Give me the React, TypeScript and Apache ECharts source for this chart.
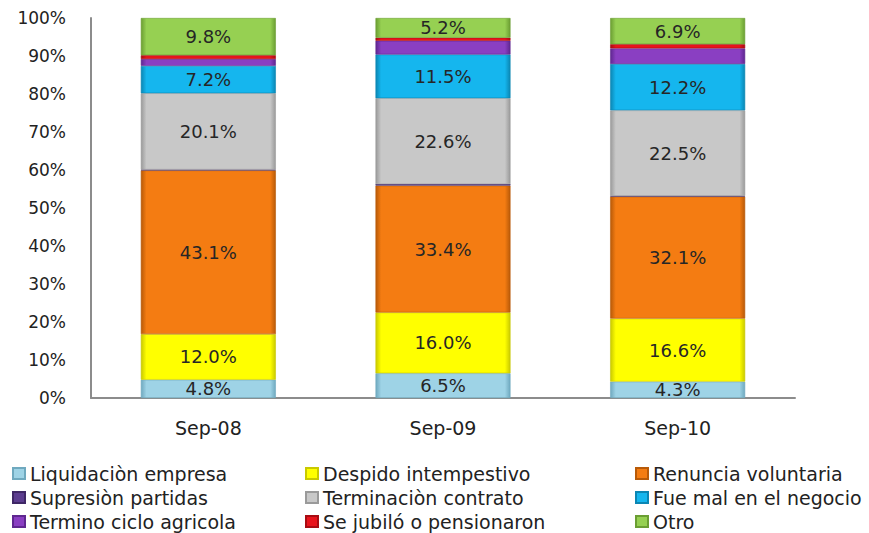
import React, { useEffect, useRef } from "react";
import * as echarts from "echarts";

const categories = ["Sep-08", "Sep-09", "Sep-10"];
const yTicks = [0, 10, 20, 30, 40, 50, 60, 70, 80, 90, 100];

const liquidacion = [4.8, 6.5, 4.3];
const despido = [12.0, 16.0, 16.6];
const renuncia = [43.1, 33.4, 32.1];
const supresion = [0.2, 0.4, 0.2];
const terminacion = [20.1, 22.6, 22.5];
const fueMal = [7.2, 11.5, 12.2];
const terminoCiclo = [1.8, 3.6, 4.1];
const jubilo = [1.0, 0.8, 1.1];
const otro = [9.8, 5.2, 6.9];

const seriesDefs = [
  { name: "Liquidaciòn empresa", data: liquidacion, color: "#9ed3e6", edge: "#6fa9bf", label: true },
  { name: "Despido intempestivo", data: despido, color: "#ffff00", edge: "#c9c900", label: true },
  { name: "Renuncia voluntaria", data: renuncia, color: "#f47c12", edge: "#b85a08", label: true },
  { name: "Supresiòn partidas", data: supresion, color: "#5c3d8f", edge: "#3f2766", label: false },
  { name: "Terminaciòn contrato", data: terminacion, color: "#c8c8c8", edge: "#9a9a9a", label: true },
  { name: "Fue mal en el negocio", data: fueMal, color: "#15b6ee", edge: "#0b86b3", label: true },
  { name: "Termino ciclo agricola", data: terminoCiclo, color: "#8a3fc2", edge: "#5f2790", label: false },
  { name: "Se jubiló o pensionaron", data: jubilo, color: "#e8141c", edge: "#a80c12", label: false },
  { name: "Otro", data: otro, color: "#96d052", edge: "#6b9e33", label: true },
];

const legendCols = [
  ["Liquidaciòn empresa", "Supresiòn partidas", "Termino ciclo agricola"],
  ["Despido intempestivo", "Terminaciòn contrato", "Se jubiló o pensionaron"],
  ["Renuncia voluntaria", "Fue mal en el negocio", "Otro"],
];
const legendLefts = [12, 305, 635];

const FONT = "'DejaVu Sans', Verdana, sans-serif";

export default function App() {
  const ref = useRef<HTMLDivElement>(null);
  useEffect(() => {
    if (!ref.current) return;
    const chart = echarts.init(ref.current, null, { renderer: "svg" });
    chart.setOption({
      animation: false,
      backgroundColor: "#ffffff",
      textStyle: { fontFamily: FONT },
      grid: { left: 91, right: 74, top: 18, bottom: 135 },
      legend: legendCols.map((col, i) => ({
        data: col,
        orient: "vertical",
        left: legendLefts[i],
        top: 464,
        height: 72,
        itemGap: 5,
        itemWidth: 12,
        itemHeight: 11,
        icon: "rect",
        padding: 0,
        textStyle: { fontFamily: FONT, fontSize: 19, lineHeight: 19, color: "#222", padding: [0, 0, 0, 0] },
      })),
      xAxis: {
        type: "category",
        data: categories,
        axisLine: { show: true, lineStyle: { color: "#8c8c8c", width: 2 } },
        axisTick: { show: false },
        axisLabel: { fontFamily: FONT, fontSize: 19, color: "#222", margin: 20 },
      },
      yAxis: {
        type: "value",
        min: yTicks[0],
        max: yTicks[yTicks.length - 1],
        interval: 10,
        axisLine: { show: true, lineStyle: { color: "#8c8c8c", width: 2 } },
        axisTick: { show: false },
        splitLine: { show: false },
        axisLabel: { fontFamily: FONT, fontSize: 17, color: "#222", margin: 25, formatter: "{value}%" },
      },
      series: seriesDefs.map((s) => ({
        name: s.name,
        type: "bar",
        stack: "total",
        barWidth: 135,
        data: s.data,
        itemStyle: {
          color: {
            type: "linear",
            x: 0,
            y: 0,
            x2: 1,
            y2: 0,
            colorStops: [
              { offset: 0, color: s.edge },
              { offset: 0.04, color: s.color },
              { offset: 0.96, color: s.color },
              { offset: 1, color: s.edge },
            ],
          },
          borderColor: s.edge,
          borderWidth: 0.6,
        },
        label: s.label
          ? {
              show: true,
              position: "inside",
              fontFamily: FONT,
              fontSize: 18,
              color: "#262626",
              formatter: (p: any) => p.value.toFixed(1) + "%",
            }
          : { show: false },
      })),
    });
    return () => chart.dispose();
  }, []);
  return (
    <div
      ref={ref}
      style={{ position: "absolute", left: 0, top: 0, width: 869, height: 533 }}
    />
  );
}
